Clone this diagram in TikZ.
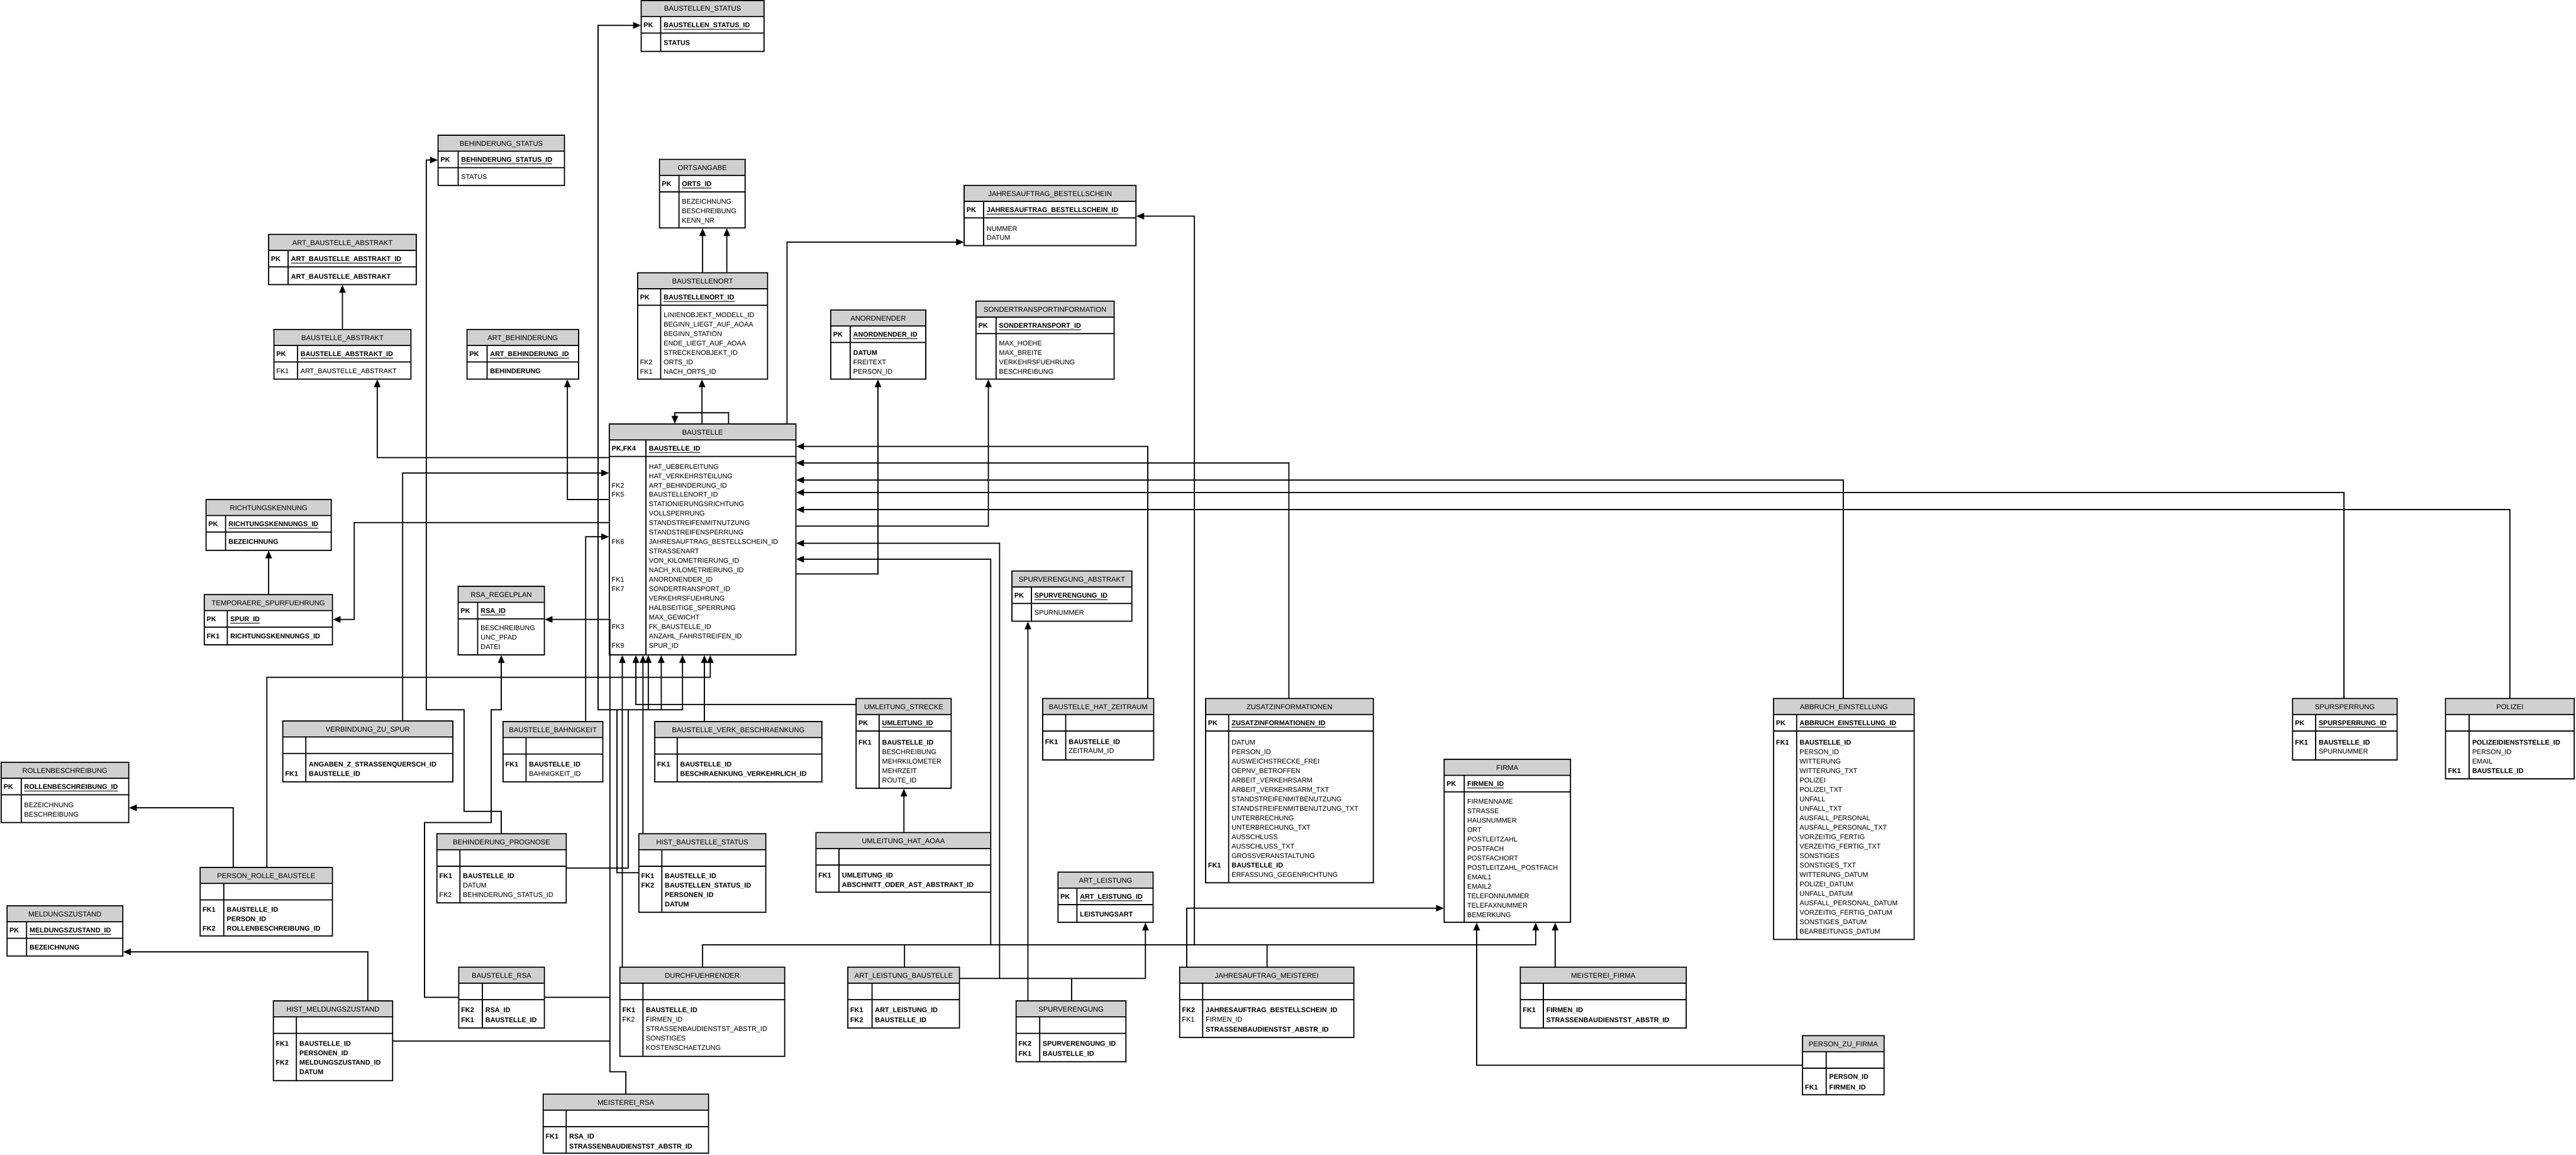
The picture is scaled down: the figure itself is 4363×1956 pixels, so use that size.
\documentclass[tikz,border=0pt]{standalone}
\usepackage{fontspec}
\setmainfont{Liberation Sans}
\usetikzlibrary{arrows.meta,fit}
\definecolor{hdrgray}{RGB}{208,208,208}
\tikzset{
	tblbox/.style={draw, fill=white, line width=1.2pt, inner sep=0pt},
	tblline/.style={line width=1.2pt},
	titletext/.style={anchor=base, inner sep=0pt, font=\fontsize{12}{14}\selectfont},
	keytext/.style={anchor=base west, inner sep=0pt, font=\fontsize{11.5}{13}\selectfont},
	fieldtext/.style={anchor=base west, inner sep=0pt, font=\fontsize{11.5}{13}\selectfont},
	fk/.style={line width=1.2pt, -{Triangle[length=13pt,width=11pt]}}
}
\newcommand{\Bf}{\bfseries}
\newcommand{\Nf}{\mdseries}
\newcommand{\pkname}[1]{\underline{\bfseries #1}}
% id, left, divider, right, top, bottom, title, pk key, pk field
\newcommand{\entity}[9]{%
	\node[tblbox, fit={(#2,#5) (#4,#6)}] (#1) {};
	\filldraw[tblline, fill=hdrgray] (#2,#5) rectangle (#4,#5+27);
	\draw[tblline] (#2,#5+55) -- (#4,#5+55) (#3,#5+27) -- (#3,#6);
	\node[titletext] (#1-title) at ({(#2+#4)/2},#5+18) {#7};
	\node[keytext] (#1-pkkey) at (#2+4,#5+45.5) {#8};
	\node[fieldtext] (#1-pk) at (#3+5,#5+45.5) {#9};
}
% id, left, divider, first row, row step, rows
\newcommand{\fields}[6]{%
	\foreach \key/\fld/\wt [count=\n from 0] in {#6}{%
		\node[keytext] (#1-k\n) at (#2+4,#4+\n*#5+4.1) {\wt\key};
		\node[fieldtext] (#1-f\n) at (#3+5,#4+\n*#5+4.1) {\wt\fld};
	}%
}
\begin{document}
\catcode`\_=12
\begin{tikzpicture}[x=1pt,y=-1pt]
	\useasboundingbox (0,0) rectangle (4363,1956);

	\entity{bs}{1086}{1119}{1294}{1}{87}{BAUSTELLEN_STATUS}{\Bf PK}{\pkname{BAUSTELLEN_STATUS_ID}}
	\fields{bs}{1086}{1119}{72}{16}{/STATUS/\Bf}
	\entity{bhs}{742}{776}{956}{229}{314}{BEHINDERUNG_STATUS}{\Bf PK}{\pkname{BEHINDERUNG_STATUS_ID}}
	\fields{bhs}{742}{776}{299}{16}{/STATUS/\Nf}
	\entity{oa}{1117}{1150}{1262}{270}{386}{ORTSANGABE}{\Bf PK}{\pkname{ORTS_ID}}
	\fields{oa}{1117}{1150}{341}{16}{/BEZEICHNUNG/\Nf,/BESCHREIBUNG/\Nf,/KENN_NR/\Nf}
	\entity{jb}{1633}{1666}{1924}{314}{416}{JAHRESAUFTRAG_BESTELLSCHEIN}{\Bf PK}{\pkname{JAHRESAUFTRAG_BESTELLSCHEIN_ID}}
	\fields{jb}{1633}{1666}{387}{15}{/NUMMER/\Nf,/DATUM/\Nf}
	\entity{aba}{455}{488}{705}{397}{482}{ART_BAUSTELLE_ABSTRAKT}{\Bf PK}{\pkname{ART_BAUSTELLE_ABSTRAKT_ID}}
	\fields{aba}{455}{488}{468}{16}{/ART_BAUSTELLE_ABSTRAKT/\Bf}
	\entity{bo}{1080}{1119}{1300}{462}{642}{BAUSTELLENORT}{\Bf PK}{\pkname{BAUSTELLENORT_ID}}
	\fields{bo}{1080}{1119}{533}{16}{/LINIENOBJEKT_MODELL_ID/\Nf,/BEGINN_LIEGT_AUF_AOAA/\Nf,/BEGINN_STATION/\Nf,/ENDE_LIEGT_AUF_AOAA/\Nf,/STRECKENOBJEKT_ID/\Nf,FK2/ORTS_ID/\Nf,FK1/NACH_ORTS_ID/\Nf}
	\entity{an}{1407}{1440}{1568}{525}{642}{ANORDNENDER}{\Bf PK}{\pkname{ANORDNENDER_ID}}
	\fields{an}{1407}{1440}{597}{16}{/DATUM/\Bf,/FREITEXT/\Nf,/PERSON_ID/\Nf}
	\entity{st}{1653}{1687}{1887}{510}{642}{SONDERTRANSPORTINFORMATION}{\Bf PK}{\pkname{SONDERTRANSPORT_ID}}
	\fields{st}{1653}{1687}{581}{16}{/MAX_HOEHE/\Nf,/MAX_BREITE/\Nf,/VERKEHRSFUEHRUNG/\Nf,/BESCHREIBUNG/\Nf}
	\entity{ba}{464}{504}{696}{558}{642}{BAUSTELLE_ABSTRAKT}{\Bf PK}{\pkname{BAUSTELLE_ABSTRAKT_ID}}
	\fields{ba}{464}{504}{628}{16}{FK1/ART_BAUSTELLE_ABSTRAKT/\Nf}
	\entity{ab}{791}{825}{980}{558}{642}{ART_BEHINDERUNG}{\Bf PK}{\pkname{ART_BEHINDERUNG_ID}}
	\fields{ab}{791}{825}{628}{16}{/BEHINDERUNG/\Bf}
	\entity{bau}{1032}{1094}{1348}{718}{1109}{BAUSTELLE}{\Bf PK,FK4}{\pkname{BAUSTELLE_ID}}
	\fields{bau}{1032}{1094}{790}{15.95}{/HAT_UEBERLEITUNG/\Nf,/HAT_VERKEHRSTEILUNG/\Nf,FK2/ART_BEHINDERUNG_ID/\Nf,FK5/BAUSTELLENORT_ID/\Nf,/STATIONIERUNGSRICHTUNG/\Nf,/VOLLSPERRUNG/\Nf,/STANDSTREIFENMITNUTZUNG/\Nf,/STANDSTREIFENSPERRUNG/\Nf,FK6/JAHRESAUFTRAG_BESTELLSCHEIN_ID/\Nf,/STRASSENART/\Nf,/VON_KILOMETRIERUNG_ID/\Nf,/NACH_KILOMETRIERUNG_ID/\Nf,FK1/ANORDNENDER_ID/\Nf,FK7/SONDERTRANSPORT_ID/\Nf,/VERKEHRSFUEHRUNG/\Nf,/HALBSEITIGE_SPERRUNG/\Nf,/MAX_GEWICHT/\Nf,FK3/FK_BAUSTELLE_ID/\Nf,/ANZAHL_FAHRSTREIFEN_ID/\Nf,FK9/SPUR_ID/\Nf}
	\entity{rk}{349}{382}{561}{846}{932}{RICHTUNGSKENNUNG}{\Bf PK}{\pkname{RICHTUNGSKENNUNGS_ID}}
	\fields{rk}{349}{382}{917}{16}{/BEZEICHNUNG/\Bf}
	\entity{ts}{346}{385}{563}{1007}{1092}{TEMPORAERE_SPURFUEHRUNG}{\Bf PK}{\pkname{SPUR_ID}}
	\fields{ts}{346}{385}{1077}{16}{FK1/RICHTUNGSKENNUNGS_ID/\Bf}
	\entity{rsa}{776}{809}{922}{993}{1109}{RSA_REGELPLAN}{\Bf PK}{\pkname{RSA_ID}}
	\fields{rsa}{776}{809}{1063}{16}{/BESCHREIBUNG/\Nf,/UNC_PFAD/\Nf,/DATEI/\Nf}
	\entity{rb}{2}{36}{218}{1291}{1393}{ROLLENBESCHREIBUNG}{\Bf PK}{\pkname{ROLLENBESCHREIBUNG_ID}}
	\fields{rb}{2}{36}{1363}{16}{/BEZEICHNUNG/\Nf,/BESCHREIBUNG/\Nf}
	\entity{vzs}{479}{518}{767}{1221}{1324}{VERBINDUNG_ZU_SPUR}{}{}
	\fields{vzs}{479}{518}{1294}{16}{/ANGABEN_Z_STRASSENQUERSCH_ID/\Bf,FK1/BAUSTELLE_ID/\Bf}
	\entity{prb}{339}{379}{563}{1469}{1585}{PERSON_ROLLE_BAUSTELE}{}{}
	\fields{prb}{339}{379}{1540}{16}{FK1/BAUSTELLE_ID/\Bf,/PERSON_ID/\Bf,FK2/ROLLENBESCHREIBUNG_ID/\Bf}
	\entity{mz}{12}{45}{208}{1534}{1619}{MELDUNGSZUSTAND}{\Bf PK}{\pkname{MELDUNGSZUSTAND_ID}}
	\fields{mz}{12}{45}{1604}{16}{/BEZEICHNUNG/\Bf}
	\entity{hm}{463}{502}{665}{1695}{1830}{HIST_MELDUNGSZUSTAND}{}{}
	\fields{hm}{463}{502}{1767}{16}{FK1/BAUSTELLE_ID/\Bf,/PERSONEN_ID/\Bf,FK2/MELDUNGSZUSTAND_ID/\Bf,/DATUM/\Bf}
	\entity{bp}{740}{779}{959}{1412}{1529}{BEHINDERUNG_PROGNOSE}{}{}
	\fields{bp}{740}{779}{1483}{16}{FK1/BAUSTELLE_ID/\Bf,/DATUM/\Nf,FK2/BEHINDERUNG_STATUS_ID/\Nf}
	\entity{bb}{852}{891}{1021}{1222}{1324}{BAUSTELLE_BAHNIGKEIT}{}{}
	\fields{bb}{852}{891}{1294}{16}{FK1/BAUSTELLE_ID/\Bf,/BAHNIGKEIT_ID/\Nf}
	\entity{bvb}{1109}{1147}{1392}{1222}{1324}{BAUSTELLE_VERK_BESCHRAENKUNG}{}{}
	\fields{bvb}{1109}{1147}{1294}{16}{FK1/BAUSTELLE_ID/\Bf,/BESCHRAENKUNG_VERKEHRLICH_ID/\Bf}
	\entity{us}{1450}{1489}{1611}{1183}{1335}{UMLEITUNG_STRECKE}{\Bf PK}{\pkname{UMLEITUNG_ID}}
	\fields{us}{1450}{1489}{1257}{16}{FK1/BAUSTELLE_ID/\Bf,/BESCHREIBUNG/\Nf,/MEHRKILOMETER/\Nf,/MEHRZEIT/\Nf,/ROUTE_ID/\Nf}
	\entity{hbs}{1082}{1121}{1297}{1412}{1545}{HIST_BAUSTELLE_STATUS}{}{}
	\fields{hbs}{1082}{1121}{1483}{16}{FK1/BAUSTELLE_ID/\Bf,FK2/BAUSTELLEN_STATUS_ID/\Bf,/PERSONEN_ID/\Bf,/DATUM/\Bf}
	\entity{uha}{1382}{1421}{1678}{1410}{1511}{UMLEITUNG_HAT_AOAA}{}{}
	\fields{uha}{1382}{1421}{1482}{16}{FK1/UMLEITUNG_ID/\Bf,/ABSCHNITT_ODER_AST_ABSTRAKT_ID/\Bf}
	\entity{brsa}{777}{817}{922}{1638}{1741}{BAUSTELLE_RSA}{}{}
	\fields{brsa}{777}{817}{1710}{17}{FK2/RSA_ID/\Bf,FK1/BAUSTELLE_ID/\Bf}
	\entity{df}{1050}{1089}{1329}{1638}{1789}{DURCHFUEHRENDER}{}{}
	\fields{df}{1050}{1089}{1710}{16}{FK1/BAUSTELLE_ID/\Bf,FK2/FIRMEN_ID/\Nf,/STRASSENBAUDIENSTST_ABSTR_ID/\Nf,/SONSTIGES/\Nf,/KOSTENSCHAETZUNG/\Nf}
	\entity{alb}{1436}{1477}{1625}{1638}{1741}{ART_LEISTUNG_BAUSTELLE}{}{}
	\fields{alb}{1436}{1477}{1710}{17}{FK1/ART_LEISTUNG_ID/\Bf,FK2/BAUSTELLE_ID/\Bf}
	\entity{mr}{920}{959}{1200}{1853}{1953}{MEISTEREI_RSA}{}{}
	\fields{mr}{920}{959}{1924}{17}{FK1/RSA_ID/\Bf,/STRASSENBAUDIENSTST_ABSTR_ID/\Bf}
	\entity{sva}{1714}{1747}{1917}{967}{1052}{SPURVERENGUNG_ABSTRAKT}{\Bf PK}{\pkname{SPURVERENGUNG_ID}}
	\fields{sva}{1714}{1747}{1037}{16}{/SPURNUMMER/\Nf}
	\entity{bhz}{1766}{1805}{1954}{1183}{1287}{BAUSTELLE_HAT_ZEITRAUM}{}{}
	\fields{bhz}{1766}{1805}{1256}{15}{FK1/BAUSTELLE_ID/\Bf,/ZEITRAUM_ID/\Nf}
	\entity{zi}{2042}{2081}{2326}{1183}{1495}{ZUSATZINFORMATIONEN}{\Bf PK}{\pkname{ZUSATZINFORMATIONEN_ID}}
	\fields{zi}{2042}{2081}{1257}{16}{/DATUM/\Nf,/PERSON_ID/\Nf,/AUSWEICHSTRECKE_FREI/\Nf,/OEPNV_BETROFFEN/\Nf,/ARBEIT_VERKEHRSARM/\Nf,/ARBEIT_VERKEHRSARM_TXT/\Nf,/STANDSTREIFENMITBENUTZUNG/\Nf,/STANDSTREIFENMITBENUTZUNG_TXT/\Nf,/UNTERBRECHUNG/\Nf,/UNTERBRECHUNG_TXT/\Nf,/AUSSCHLUSS/\Nf,/AUSSCHLUSS_TXT/\Nf,/GROSSVERANSTALTUNG/\Nf,FK1/BAUSTELLE_ID/\Bf,/ERFASSUNG_GEGENRICHTUNG/\Nf}
	\entity{al}{1792}{1824}{1953}{1477}{1562}{ART_LEISTUNG}{\Bf PK}{\pkname{ART_LEISTUNG_ID}}
	\fields{al}{1792}{1824}{1548}{16}{/LEISTUNGSART/\Bf}
	\entity{sv}{1721}{1761}{1907}{1695}{1798}{SPURVERENGUNG}{}{}
	\fields{sv}{1721}{1761}{1767}{17}{FK2/SPURVERENGUNG_ID/\Bf,FK1/BAUSTELLE_ID/\Bf}
	\entity{jm}{1998}{2037}{2293}{1638}{1757}{JAHRESAUFTRAG_MEISTEREI}{}{}
	\fields{jm}{1998}{2037}{1710}{16.5}{FK2/JAHRESAUFTRAG_BESTELLSCHEIN_ID/\Bf,FK1/FIRMEN_ID/\Nf,/STRASSENBAUDIENSTST_ABSTR_ID/\Bf}
	\entity{mf}{2575}{2614}{2856}{1638}{1741}{MEISTEREI_FIRMA}{}{}
	\fields{mf}{2575}{2614}{1710}{17}{FK1/FIRMEN_ID/\Bf,/STRASSENBAUDIENSTST_ABSTR_ID/\Bf}
	\entity{fi}{2446}{2480}{2660}{1286}{1562}{FIRMA}{\Bf PK}{\pkname{FIRMEN_ID}}
	\fields{fi}{2446}{2480}{1357}{16}{/FIRMENNAME/\Nf,/STRASSE/\Nf,/HAUSNUMMER/\Nf,/ORT/\Nf,/POSTLEITZAHL/\Nf,/POSTFACH/\Nf,/POSTFACHORT/\Nf,/POSTLEITZAHL_POSTFACH/\Nf,/EMAIL1/\Nf,/EMAIL2/\Nf,/TELEFONNUMMER/\Nf,/TELEFAXNUMMER/\Nf,/BEMERKUNG/\Nf}
	\entity{ae}{3004}{3043}{3242}{1183}{1591}{ABBRUCH_EINSTELLUNG}{\Bf PK}{\pkname{ABBRUCH_EINSTELLUNG_ID}}
	\fields{ae}{3004}{3043}{1257}{16}{FK1/BAUSTELLE_ID/\Bf,/PERSON_ID/\Nf,/WITTERUNG/\Nf,/WITTERUNG_TXT/\Nf,/POLIZEI/\Nf,/POLIZEI_TXT/\Nf,/UNFALL/\Nf,/UNFALL_TXT/\Nf,/AUSFALL_PERSONAL/\Nf,/AUSFALL_PERSONAL_TXT/\Nf,/VORZEITIG_FERTIG/\Nf,/VERZEITIG_FERTIG_TXT/\Nf,/SONSTIGES/\Nf,/SONSTIGES_TXT/\Nf,/WITTERUNG_DATUM/\Nf,/POLIZEI_DATUM/\Nf,/UNFALL_DATUM/\Nf,/AUSFALL_PERSONAL_DATUM/\Nf,/VORZEITIG_FERTIG_DATUM/\Nf,/SONSTIGES_DATUM/\Nf,/BEARBEITUNGS_DATUM/\Nf}
	\entity{pzf}{3053}{3093}{3191}{1754}{1854}{PERSON_ZU_FIRMA}{}{}
	\fields{pzf}{3053}{3093}{1823}{18}{/PERSON_ID/\Bf,FK1/FIRMEN_ID/\Bf}
	\entity{ss}{3883}{3922}{4060}{1183}{1287}{SPURSPERRUNG}{\Bf PK}{\pkname{SPURSPERRUNG_ID}}
	\fields{ss}{3883}{3922}{1257}{15}{FK1/BAUSTELLE_ID/\Bf,/SPURNUMMER/\Nf}
	\entity{pol}{4142}{4182}{4360}{1183}{1319}{POLIZEI}{}{}
	\fields{pol}{4142}{4182}{1257}{16}{/POLIZEIDIENSTSTELLE_ID/\Bf,/PERSON_ID/\Nf,/EMAIL/\Nf,FK1/BAUSTELLE_ID/\Bf}

	% relationships, arrow at the referenced table
	\draw[fk] (ba.north -| 580,0) -- (aba.south -| 580,0);
	\draw[fk] (bau.west |- 0,775) -| (ba.south -| 639,0);
	\draw[fk] (bau.west |- 0,846) -| (ab.south -| 961,0);
	\draw[fk] (bau.north -| 1189,0) -- (bo.south -| 1189,0);
	\draw[fk] (bo.north -| 1190,0) -- (oa.south -| 1190,0);
	\draw[fk] (bo.north -| 1231,0) -- (oa.south -| 1231,0);
	\draw[fk] (bau.north -| 1234,0) -- (1234,699) -- (1143,699) -- (bau.north -| 1143,0);
	\draw[fk] (bau.north -| 1333,0) |- (jb.west |- 0,410);
	\draw[fk] (bau.east |- 0,972) -| (an.south -| 1487,0);
	\draw[fk] (bau.east |- 0,891) -| (st.south -| 1674,0);
	\draw[fk] (bau.west |- 0,885) -- (600,885) |- (ts.east |- 0,1049);
	\draw[fk] (ts.north -| 455,0) -- (rk.south -| 455,0);
	\draw[fk] (vzs.north -| 682,0) |- (bau.west |- 0,801);
	\draw[fk] (bb.north -| 992,0) |- (bau.west |- 0,909);
	\draw[fk] (hbs.west |- 0,1478) -- (1045,1478) -- (1045,1202) -- (1013,1202) |- (bs.west |- 0,43);
	\draw[fk] (bp.north -| 849,0) -- (849,1374) -- (786,1374) -- (786,1202) -- (722,1202) |- (bhs.west |- 0,271);
	\draw[fk] (mr.north -| 1060,0) -- (1060,1815) -- (1033,1815) |- (rsa.east |- 0,1049);
	\draw[fk] (brsa.west |- 0,1689) -- (719,1689) -- (719,1393) -- (832,1393) -- (832,1202) -- (849,1202) -- (rsa.south -| 849,0);
	\draw[fk] (brsa.east |- 0,1689) -- (1033,1689) -- (1033,1202) -- (1120,1202) -- (bau.south -| 1120,0);
	\draw[fk] (hm.east |- 0,1763) -- (1033,1763) -- (1033,1202) -- (1156,1202) -- (bau.south -| 1156,0);
	\draw[fk] (bp.east |- 0,1470) -- (1064,1470) -- (1064,1202) -- (1098,1202) -- (bau.south -| 1098,0);
	\draw[fk] (prb.north -| 452,0) -- (452,1147) -- (1203,1147) -- (bau.south -| 1203,0);
	\draw[fk] (prb.north -| 395,0) |- (rb.east |- 0,1368);
	\draw[fk] (hm.north -| 623,0) |- (mz.east |- 0,1612);
	\draw[fk] (df.north -| 1054,0) -- (bau.south -| 1054,0);
	\draw[fk] (hbs.north -| 1089,0) -- (bau.south -| 1089,0);
	\draw[fk] (bvb.north -| 1193,0) -- (bau.south -| 1193,0);
	\draw[fk] (us.west |- 0,1193) -| (bau.south -| 1077,0);
	\draw[fk] (uha.north -| 1531,0) -- (us.south -| 1531,0);
	\draw[fk] (bhz.north -| 1944,0) |- (bau.east |- 0,756);
	\draw[fk] (zi.north -| 2183,0) |- (bau.east |- 0,784);
	\draw[fk] (ae.north -| 3122,0) |- (bau.east |- 0,813);
	\draw[fk] (ss.north -| 3970,0) |- (bau.east |- 0,834);
	\draw[fk] (pol.north -| 4251,0) |- (bau.east |- 0,863);
	\draw[fk] (sv.north -| 1815,0) -- (1815,1657) -- (1693,1657) |- (bau.east |- 0,920);
	\draw[fk] (alb.north -| 1532,0) -- (1532,1600) -- (1678,1600) |- (bau.east |- 0,947);
	\draw[fk] (alb.east |- 0,1657) -| (al.south -| 1940,0);
	\draw[fk] (sv.north -| 1741,0) -- (sva.south -| 1741,0);
	\draw[fk] (jm.north -| 2010,0) |- (fi.west |- 0,1538);
	\draw[fk] (jm.north -| 2146,0) -- (2146,1600) -- (2023,1600) |- (jb.east |- 0,366);
	\draw[fk] (mf.north -| 2634,0) -- (fi.south -| 2634,0);
	\draw[fk] (pzf.west |- 0,1804) -| (fi.south -| 2501,0);
	\draw[fk] (df.north -| 1190,0) -- (1190,1600) -| (fi.south -| 2601,0);
\end{tikzpicture}
\end{document}
